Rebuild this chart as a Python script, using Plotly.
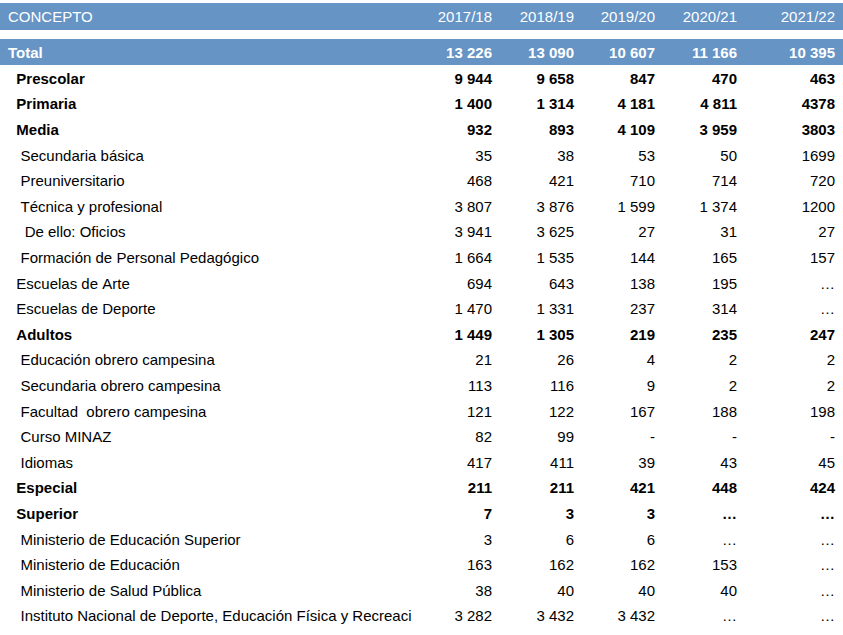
import plotly.graph_objects as go

# Encabezado de la tabla
encabezado = ["CONCEPTO", "2017/18", "2018/19", "2019/20", "2020/21", "2021/22"]

# Conceptos (nivel: 0 = total, 1 = nivel en negrita, 2 = subnivel, 3 = detalle, 4 = nivel sin negrita)
conceptos = [
    "Total", "Prescolar", "Primaria", "Media", "Secundaria básica", "Preuniversitario",
    "Técnica y profesional", "De ello: Oficios", "Formación de Personal Pedagógico",
    "Escuelas de Arte", "Escuelas de Deporte", "Adultos", "Educación obrero campesina",
    "Secundaria obrero campesina", "Facultad  obrero campesina", "Curso MINAZ", "Idiomas",
    "Especial", "Superior", "Ministerio de Educación Superior", "Ministerio de Educación",
    "Ministerio de Salud Pública",
    "Instituto Nacional de Deporte, Educación Física y Recreaci",
]
niveles = [0, 1, 1, 1, 2, 2, 2, 3, 2, 4, 4, 1, 2, 2, 2, 2, 2, 1, 1, 2, 2, 2, 2]

c2017 = ["13 226", "9 944", "1 400", "932", "35", "468", "3 807", "3 941", "1 664", "694",
         "1 470", "1 449", "21", "113", "121", "82", "417", "211", "7", "3", "163", "38", "3 282"]
c2018 = ["13 090", "9 658", "1 314", "893", "38", "421", "3 876", "3 625", "1 535", "643",
         "1 331", "1 305", "26", "116", "122", "99", "411", "211", "3", "6", "162", "40", "3 432"]
c2019 = ["10 607", "847", "4 181", "4 109", "53", "710", "1 599", "27", "144", "138",
         "237", "219", "4", "9", "167", "-", "39", "421", "3", "6", "162", "40", "3 432"]
c2020 = ["11 166", "470", "4 811", "3 959", "50", "714", "1 374", "31", "165", "195",
         "314", "235", "2", "2", "188", "-", "43", "448", "…", "…", "153", "40", "…"]
c2021 = ["10 395", "463", "4378", "3803", "1699", "720", "1200", "27", "157", "…",
         "…", "247", "2", "2", "198", "-", "45", "424", "…", "…", "…", "…", "…"]

AZUL = "#6694c5"
NBSP = "\u00a0"
sangria = {0: 0, 1: 2, 2: 3, 3: 4, 4: 2}


def duro(texto):
    # espacios duros para que plotly no parta el texto en varias líneas
    return texto.replace(" ", NBSP)


col_concepto = [NBSP * sangria[n] + duro(t) for t, n in zip(conceptos, niveles)]
columnas = [col_concepto] + [[duro(v) for v in col] for col in (c2017, c2018, c2019, c2020, c2021)]
negrita = [n in (0, 1) for n in niveles]

# una capa con las filas normales y otra, transparente, con las filas en negrita
cols_normal = [[("" if b else v) for v, b in zip(col, negrita)] for col in columnas]
cols_negrita = [[(v if b else "") for v, b in zip(col, negrita)] for col in columnas]

colores_fondo = [AZUL if n == 0 else "white" for n in niveles]
colores_texto = ["white" if n == 0 else "black" for n in niveles]

anchos = [425, 75, 82, 81, 82, 98]
fuente = "Liberation Sans, Arial, sans-serif"
H = 635
dominio_cuerpo = dict(x=[0, 1], y=[0, 1 - 23 / H])
alineacion = ["left"] + ["right"] * 5
cabecera_vacia = dict(values=[], fill_color="rgba(0,0,0,0)", line_width=0,
                      line_color="rgba(0,0,0,0)")

fig = go.Figure()

fig.add_trace(go.Table(
    domain=dominio_cuerpo,
    columnwidth=anchos,
    header=cabecera_vacia,
    cells=dict(
        values=cols_normal,
        fill_color=[colores_fondo] * 6,
        line_color=[colores_fondo] * 6,
        line_width=0,
        align=alineacion,
        font=dict(family=fuente, size=15, color=[colores_texto] * 6),
        height=25.6,
    ),
))

fig.add_trace(go.Table(
    domain=dominio_cuerpo,
    columnwidth=anchos,
    header=cabecera_vacia,
    cells=dict(
        values=cols_negrita,
        fill_color="rgba(0,0,0,0)",
        line_color="rgba(0,0,0,0)",
        line_width=0,
        align=alineacion,
        font=dict(family=fuente, size=15, color=[colores_texto] * 6, weight="bold"),
        height=25.6,
    ),
))

# Banda de encabezado
fig.add_trace(go.Table(
    domain=dict(x=[0, 1], y=[1 - 31 / H, 1 - 3 / H]),
    columnwidth=anchos,
    header=dict(
        values=encabezado,
        fill_color=AZUL,
        line_color=AZUL,
        line_width=0,
        align=alineacion,
        font=dict(family=fuente, size=15, color="white"),
        height=28,
    ),
    cells=dict(values=[[] for _ in encabezado], line_width=0, fill_color="white"),
))

fig.update_layout(
    width=843,
    height=635,
    margin=dict(l=0, r=0, t=0, b=0),
    paper_bgcolor="white",
)

fig.write_html("out.html", config={"displayModeBar": False},
               post_script="document.body.style.margin = '0px';")
